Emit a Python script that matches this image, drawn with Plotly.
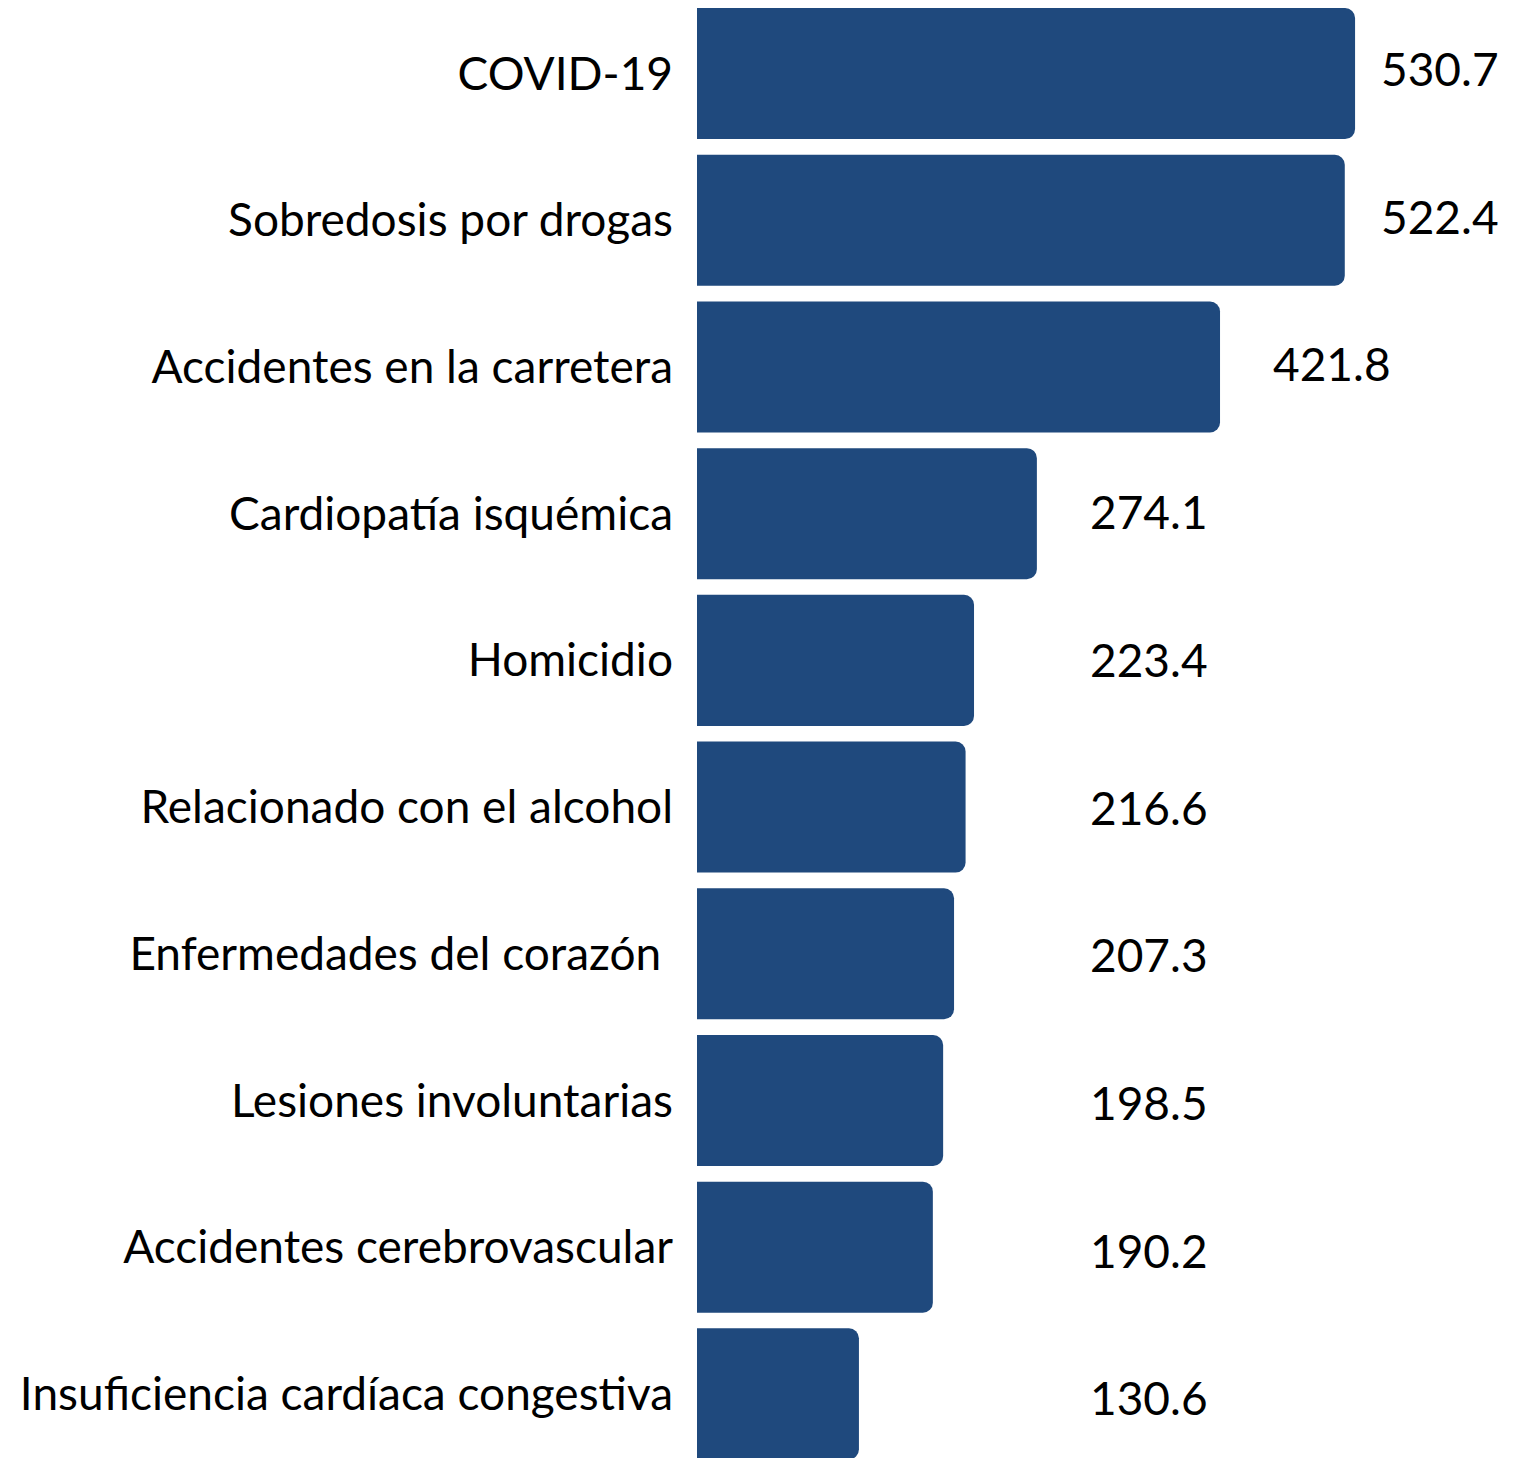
import plotly.graph_objects as go

categories = [
    "COVID-19",
    "Sobredosis por drogas",
    "Accidentes en la carretera",
    "Cardiopatía isquémica",
    "Homicidio",
    "Relacionado con el alcohol",
    "Enfermedades del corazón\u00a0",
    "Lesiones involuntarias",
    "Accidentes cerebrovascular",
    "Insuficiencia cardíaca congestiva",
]
values = [530.7, 522.4, 421.8, 274.1, 223.4, 216.6, 207.3, 198.5, 190.2, 130.6]
value_labels = [f"{v:.1f}" for v in values]

BAR_COLOR = "#1F497D"
FONT = "Lato"
FSIZE = 46

W, H = 1512, 1450
LEFT = 689
PX_PER_UNIT = 1.24
BAND_PX = 146.7
xmax = (W - LEFT) / PX_PER_UNIT

fig = go.Figure()
fig.add_trace(go.Bar(
    x=values,
    y=categories,
    orientation="h",
    marker=dict(color=BAR_COLOR, line=dict(width=0), cornerradius=10),
    hoverinfo="skip",
))

# value labels: placed to the right, with a minimum column and clamped to the chart's right edge
label_floor = 274.1
label_gap = 41
label_max_left = 550
for i, (c, v, t) in enumerate(zip(categories, values, value_labels)):
    fig.add_annotation(
        x=min(max(v, label_floor) + label_gap, label_max_left),
        y=c,
        text=t,
        showarrow=False,
        xanchor="left",
        yanchor="middle",
        yshift=-(-5 + 1.0 * i),
        font=dict(family=FONT, size=FSIZE, color="black"),
    )

n = len(categories)
top = -0.447
fig.update_layout(
    width=W,
    height=H,
    margin=dict(l=LEFT, r=0, t=0, b=0),
    paper_bgcolor="white",
    plot_bgcolor="white",
    bargap=0.107,
    showlegend=False,
    font=dict(family=FONT, size=FSIZE, color="black"),
)
fig.update_xaxes(range=[0, xmax], visible=False, fixedrange=True)
fig.update_yaxes(
    type="category",
    range=[top + H / BAND_PX, top],
    showgrid=False,
    zeroline=False,
    showline=False,
    ticks="",
    ticklabelstandoff=23,
    tickfont=dict(family=FONT, size=FSIZE, color="black"),
    fixedrange=True,
)

fig.write_html("out.html")
